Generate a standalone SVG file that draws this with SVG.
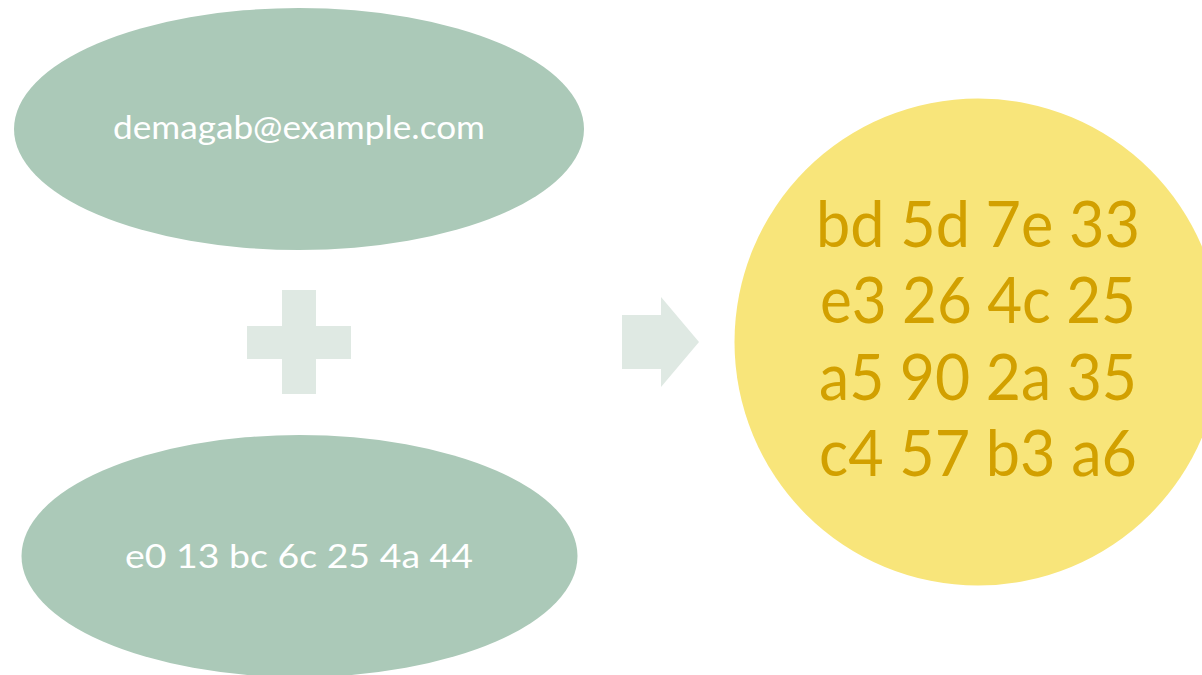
<svg xmlns="http://www.w3.org/2000/svg" width="1202" height="675" viewBox="0 0 1202 675">
<style>
.g{fill:#ABC9B8}
.y{fill:#F8E57A}
.s{fill:#DFE9E3}
.t{font-family:Lato,"Open Sans",sans-serif;fill:#FFFFFF;font-size:32px;text-anchor:middle}
.h{font-family:Lato,"Open Sans",sans-serif;fill:#D2A000;font-size:63px;text-anchor:middle}
</style>
<rect width="1202" height="675" fill="#FFFFFF"/>
<g id="email">
<ellipse class="g" cx="299" cy="129" rx="285" ry="121"/>
<text class="t" x="299" y="139" textLength="372" lengthAdjust="spacingAndGlyphs">demagab@example.com</text>
</g>
<g id="salt">
<ellipse class="g" cx="299.5" cy="556" rx="278" ry="121"/>
<text class="t" x="299" y="568" textLength="348" lengthAdjust="spacingAndGlyphs">e0 13 bc 6c 25 4a 44</text>
</g>
<g id="plus">
<rect class="s" x="282" y="290" width="34" height="104"/>
<rect class="s" x="247" y="326" width="104" height="33"/>
</g>
<g id="connectors">
<polygon class="s" points="622,315 661,315 661,297 699,342 661,387 661,369 622,369"/>
</g>
<g id="hash">
<circle class="y" cx="978" cy="342" r="243.5"/>
<text class="h" x="978" y="247" textLength="324" lengthAdjust="spacingAndGlyphs">bd 5d 7e 33</text>
<text class="h" x="978" y="323" textLength="316" lengthAdjust="spacingAndGlyphs">e3 26 4c 25</text>
<text class="h" x="978" y="400" textLength="318" lengthAdjust="spacingAndGlyphs">a5 90 2a 35</text>
<text class="h" x="978" y="476" textLength="318" lengthAdjust="spacingAndGlyphs">c4 57 b3 a6</text>
</g>
</svg>
